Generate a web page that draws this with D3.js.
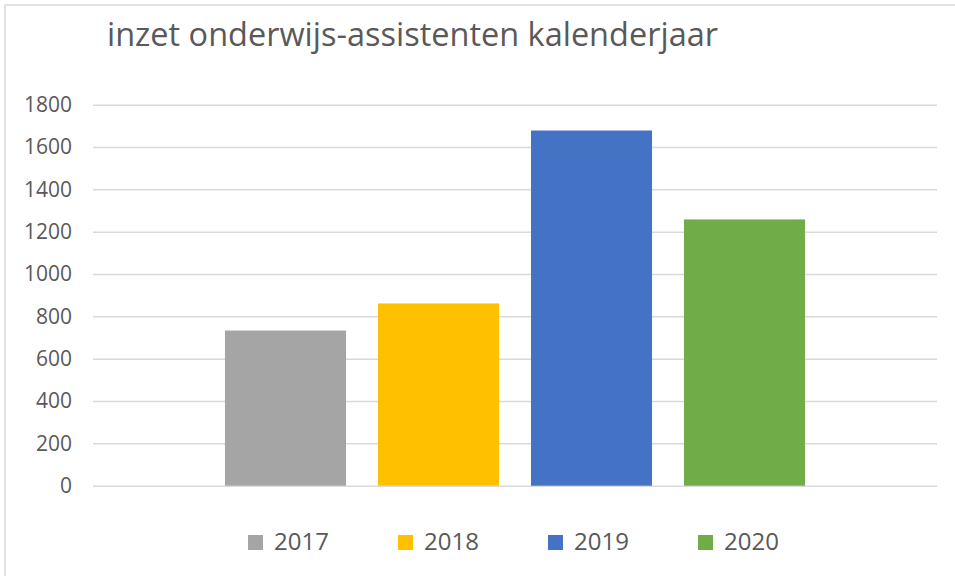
<!DOCTYPE html>
<html>
<head>
<meta charset="utf-8">
<script src="https://cdn.jsdelivr.net/npm/d3@7"></script>
<style>
  html, body { margin: 0; padding: 0; background: #fff; }
  svg { display: block; }
  text { font-family: "Open Sans", "Liberation Sans", sans-serif; fill: #595959; }
</style>
</head>
<body>
<svg id="chart" width="955" height="576"></svg>
<script>
const title = "inzet onderwijs-assistenten kalenderjaar";
const category = ["kalenderjaar"];
const seriesNames = ["2017", "2018", "2019", "2020"];
const seriesValues = [733, 861, 1678, 1258];
const seriesColors = ["#A5A5A5", "#FFC000", "#4472C4", "#70AD47"];
const yTicks = [0, 200, 400, 600, 800, 1000, 1200, 1400, 1600, 1800];

const W = 955, H = 576;
const margin = { top: 104.7, right: 18, bottom: 90.3, left: 93 };
const svg = d3.select("#chart");

// chart frame
svg.append("rect")
  .attr("x", 5).attr("y", 5)
  .attr("width", W + 10).attr("height", H + 10)
  .attr("fill", "#fff").attr("stroke", "#d9d9d9").attr("stroke-width", 1.5);

// title
svg.append("text")
  .attr("x", 107).attr("y", 46)
  .attr("font-size", 32)
  .attr("font-weight", 400)
  .attr("textLength", 611)
  .attr("lengthAdjust", "spacingAndGlyphs")
  .text(title);

const y = d3.scaleLinear().domain([0, 1800]).range([H - margin.bottom, margin.top]);
const x0 = d3.scaleBand().domain(category).range([margin.left, W - margin.right])
  .paddingInner(0).paddingOuter(0.1895);
const x1 = d3.scaleBand().domain(seriesNames).range([0, x0.bandwidth()])
  .paddingInner(0.209).paddingOuter(0.1045);

// gridlines
const grid = d3.axisLeft(y).tickValues(yTicks).tickSize(-(W - margin.left - margin.right)).tickFormat("");
const gg = svg.append("g").attr("transform", `translate(${margin.left},0)`).call(grid);
gg.select(".domain").remove();
gg.selectAll("line").attr("stroke", "#d9d9d9").attr("stroke-width", 1.5);

// y labels
const yAxis = d3.axisLeft(y).tickValues(yTicks).tickSize(0).tickPadding(21).tickFormat(d3.format("d"));
const ya = svg.append("g").attr("transform", `translate(${margin.left},0)`).call(yAxis);
ya.select(".domain").remove();
ya.selectAll("text").attr("font-size", 21).attr("fill", "#595959")
  .attr("font-family", "'Open Sans', 'Liberation Sans', sans-serif");

// bars
const data = seriesNames.map((s, i) => ({ name: s, value: seriesValues[i], color: seriesColors[i] }));
svg.append("g").selectAll("rect").data(data).join("rect")
  .attr("x", d => x0(category[0]) + x1(d.name))
  .attr("y", d => y(d.value))
  .attr("width", x1.bandwidth())
  .attr("height", d => y(0) - y(d.value))
  .attr("fill", d => d.color);

// legend
const lx = d3.scalePoint().domain(seriesNames).range([248, 698]);
const lg = svg.append("g").selectAll("g").data(data).join("g")
  .attr("transform", d => `translate(${lx(d.name)},0)`);
lg.append("rect").attr("x", 0).attr("y", 535).attr("width", 15).attr("height", 15).attr("fill", d => d.color);
lg.append("text").attr("x", 26).attr("y", 550).attr("font-size", 24).text(d => d.name);
</script>
</body>
</html>
